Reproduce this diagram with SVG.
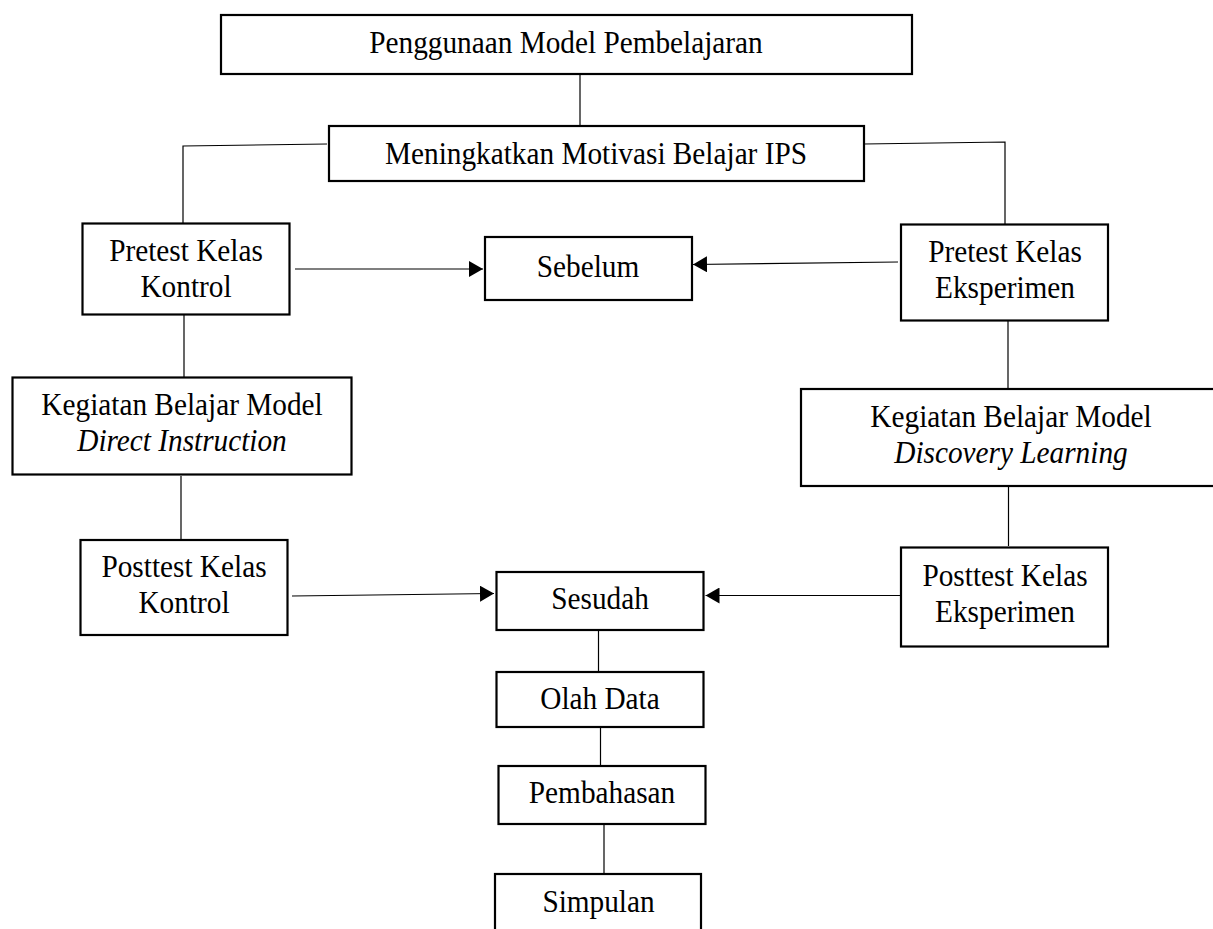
<svg xmlns="http://www.w3.org/2000/svg" width="1213" height="929" viewBox="0 0 1213 929">
<style>
.box{fill:#fff;stroke:#000;stroke-width:2.2}
.t{font-family:"Liberation Serif","Times New Roman",serif;font-size:31px;fill:#000;text-anchor:middle}
.i{font-style:italic}
.c{fill:none;stroke:#000;stroke-width:1.2}
.a{marker-end:url(#arr)}
</style>
<defs>
<marker id="arr" viewBox="0 0 14 16" refX="14" refY="8" markerWidth="14" markerHeight="16" markerUnits="userSpaceOnUse" orient="auto">
<path d="M0,0 L14,8 L0,16 Z" fill="#000"/>
</marker>
</defs>
<rect width="1213" height="929" fill="#fff"/>
<g id="connectors">
<line class="c" x1="580" y1="75" x2="580" y2="125"/>
<polyline class="c" points="327,144 183,146 183,223"/>
<polyline class="c" points="864,144 1005,142 1005,233"/>
<line class="c a" x1="295" y1="269" x2="483" y2="269"/>
<line class="c a" x1="898" y1="262" x2="693" y2="264.5"/>
<line class="c" x1="184" y1="315" x2="184" y2="377"/>
<line class="c" x1="181" y1="476" x2="181" y2="539"/>
<line class="c a" x1="292" y1="596" x2="494" y2="593.5"/>
<line class="c" x1="1008" y1="320" x2="1008" y2="388"/>
<line class="c" x1="1008.5" y1="486" x2="1008.5" y2="546"/>
<line class="c a" x1="904" y1="595.5" x2="705.5" y2="595.5"/>
<line class="c" x1="598.5" y1="631" x2="598.5" y2="671"/>
<line class="c" x1="600.5" y1="727" x2="600.5" y2="766"/>
<line class="c" x1="604" y1="824" x2="604" y2="873"/>
</g>
<g id="penggunaan">
<rect class="box" x="221" y="15" width="691" height="59"/>
<text class="t" transform="translate(566,53) scale(0.945,1)">Penggunaan Model Pembelajaran</text>
</g>
<g id="meningkatkan">
<rect class="box" x="329" y="126" width="535" height="55"/>
<text class="t" transform="translate(596,164) scale(0.945,1)">Meningkatkan Motivasi Belajar IPS</text>
</g>
<g id="pretest-kontrol">
<rect class="box" x="82.5" y="223.5" width="207" height="91"/>
<text class="t" transform="translate(186,261) scale(0.945,1)">Pretest Kelas</text>
<text class="t" transform="translate(186,297) scale(0.945,1)">Kontrol</text>
</g>
<g id="sebelum">
<rect class="box" x="485" y="237" width="207" height="63"/>
<text class="t" transform="translate(588,277) scale(0.945,1)">Sebelum</text>
</g>
<g id="pretest-eksperimen">
<rect class="box" x="901" y="224.5" width="207" height="96"/>
<text class="t" transform="translate(1005,262) scale(0.945,1)">Pretest Kelas</text>
<text class="t" transform="translate(1005,298) scale(0.945,1)">Eksperimen</text>
</g>
<g id="kegiatan-direct">
<rect class="box" x="12.5" y="377.5" width="339" height="97"/>
<text class="t" transform="translate(182,415) scale(0.945,1)">Kegiatan Belajar Model</text>
<text class="t i" transform="translate(182,451) scale(0.945,1)">Direct Instruction</text>
</g>
<g id="kegiatan-discovery">
<rect class="box" x="801" y="389" width="420" height="97"/>
<text class="t" transform="translate(1011,427) scale(0.945,1)">Kegiatan Belajar Model</text>
<text class="t i" transform="translate(1011,463) scale(0.945,1)">Discovery Learning</text>
</g>
<g id="posttest-kontrol">
<rect class="box" x="80.5" y="540" width="207" height="95"/>
<text class="t" transform="translate(184,577) scale(0.945,1)">Posttest Kelas</text>
<text class="t" transform="translate(184,613) scale(0.945,1)">Kontrol</text>
</g>
<g id="sesudah">
<rect class="box" x="496.5" y="572" width="207" height="58"/>
<text class="t" transform="translate(600,609) scale(0.945,1)">Sesudah</text>
</g>
<g id="posttest-eksperimen">
<rect class="box" x="901" y="547.5" width="207" height="99"/>
<text class="t" transform="translate(1005,586) scale(0.945,1)">Posttest Kelas</text>
<text class="t" transform="translate(1005,622) scale(0.945,1)">Eksperimen</text>
</g>
<g id="olah-data">
<rect class="box" x="496.5" y="672" width="207" height="55"/>
<text class="t" transform="translate(600,709) scale(0.945,1)">Olah Data</text>
</g>
<g id="pembahasan">
<rect class="box" x="498.5" y="766" width="207" height="58"/>
<text class="t" transform="translate(602,803) scale(0.945,1)">Pembahasan</text>
</g>
<g id="simpulan">
<rect class="box" x="495" y="874" width="206" height="80"/>
<text class="t" transform="translate(598.5,911.5) scale(0.945,1)">Simpulan</text>
</g>
</svg>
